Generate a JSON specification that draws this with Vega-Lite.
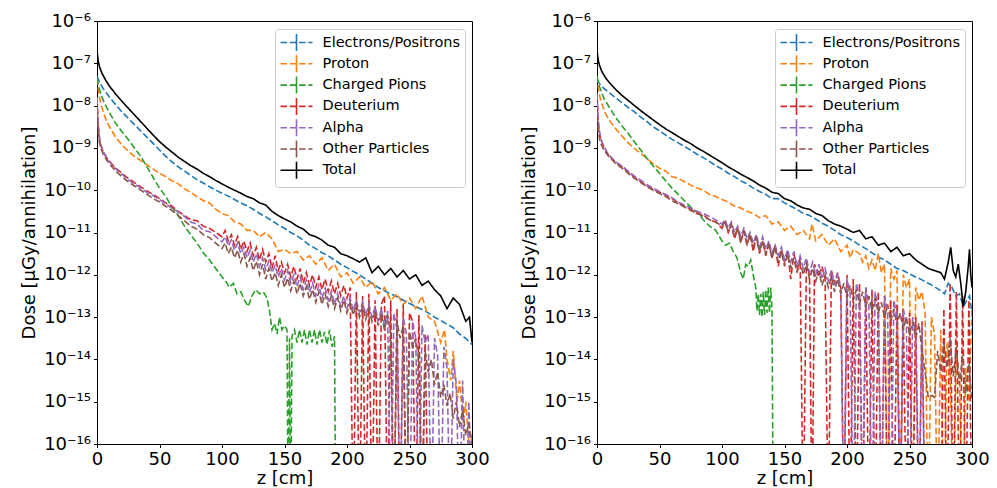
{
"$schema":"https://vega.github.io/schema/vega-lite/v6.json",
"padding":{"left":20,"top":11,"right":5,"bottom":5},
"bounds":"flush",
"spacing":125,
"config":{
 "font":"DejaVu Sans",
 "view":{"stroke":"black","strokeWidth":1},
 "axis":{"domainColor":"black","tickColor":"black","labelColor":"black","titleColor":"black","labelFontSize":18,"titleFontSize":18,"titleFontWeight":"normal","tickSize":3.5,"grid":false,"labelPadding":3,"labelFlush":false,"labelOverlap":false,"labelBound":false,"labelFont":"DejaVu Sans","titleFont":"DejaVu Sans"},
 "legend":{"orient":"top-right","offset":7.5,"title":null,"labelFontSize":14.5,"labelColor":"black","fillColor":"white","strokeColor":"#cccccc","cornerRadius":3,"padding":4.5,"symbolType":"M-1,0H3M1,-1.06V-0.53M1,-0.53V0M1,0V0.53M1,0.53V1.06","symbolSize":256,"symbolStrokeWidth":1.6,"rowPadding":-2.7,"labelOffset":25,"labelBaseline":"middle"}
},
"datasets":{
"names":[{"s":1,"particle":"Electrons/Positrons"},{"s":2,"particle":"Proton"},{"s":3,"particle":"Charged Pions"},{"s":4,"particle":"Deuterium"},{"s":5,"particle":"Alpha"},{"s":6,"particle":"Other Particles"},{"s":7,"particle":"Total"}],
"dose":[
{"p":0,"s":1,"z":0,"y":-7.3},{"p":0,"s":1,"z":2,"y":-7.45},{"p":0,"s":1,"z":5,"y":-7.6},{"p":0,"s":1,"z":10,"y":-7.8},{"p":0,"s":1,"z":15,"y":-7.98},{"p":0,"s":1,"z":20,"y":-8.15},{"p":0,"s":1,"z":25,"y":-8.3},{"p":0,"s":1,"z":30,"y":-8.45},{"p":0,"s":1,"z":35,"y":-8.6},{"p":0,"s":1,"z":40,"y":-8.75},{"p":0,"s":1,"z":45,"y":-8.9},{"p":0,"s":1,"z":50,"y":-9.05},{"p":0,"s":1,"z":55,"y":-9.2},{"p":0,"s":1,"z":60,"y":-9.33},{"p":0,"s":1,"z":65,"y":-9.45},{"p":0,"s":1,"z":70,"y":-9.55},{"p":0,"s":1,"z":75,"y":-9.65},{"p":0,"s":1,"z":80,"y":-9.75},{"p":0,"s":1,"z":85,"y":-9.83},{"p":0,"s":1,"z":90,"y":-9.92},{"p":0,"s":1,"z":95,"y":-10.0},{"p":0,"s":1,"z":100,"y":-10.07},{"p":0,"s":1,"z":105,"y":-10.14},{"p":0,"s":1,"z":110,"y":-10.22},{"p":0,"s":1,"z":115,"y":-10.3},{"p":0,"s":1,"z":120,"y":-10.37},{"p":0,"s":1,"z":125,"y":-10.45},{"p":0,"s":1,"z":130,"y":-10.55},{"p":0,"s":1,"z":135,"y":-10.63},{"p":0,"s":1,"z":140,"y":-10.72},{"p":0,"s":1,"z":145,"y":-10.82},{"p":0,"s":1,"z":150,"y":-10.9},{"p":0,"s":1,"z":155,"y":-11.0},{"p":0,"s":1,"z":160,"y":-11.08},{"p":0,"s":1,"z":165,"y":-11.18},{"p":0,"s":1,"z":170,"y":-11.3},{"p":0,"s":1,"z":175,"y":-11.38},{"p":0,"s":1,"z":180,"y":-11.48},{"p":0,"s":1,"z":185,"y":-11.55},{"p":0,"s":1,"z":190,"y":-11.65},{"p":0,"s":1,"z":195,"y":-11.75},{"p":0,"s":1,"z":200,"y":-11.83},{"p":0,"s":1,"z":205,"y":-11.92},{"p":0,"s":1,"z":210,"y":-12.0},{"p":0,"s":1,"z":215,"y":-12.1},{"p":0,"s":1,"z":220,"y":-12.2},{"p":0,"s":1,"z":225,"y":-12.3},{"p":0,"s":1,"z":230,"y":-12.38},{"p":0,"s":1,"z":235,"y":-12.45},{"p":0,"s":1,"z":240,"y":-12.52},{"p":0,"s":1,"z":245,"y":-12.6},{"p":0,"s":1,"z":250,"y":-12.68},{"p":0,"s":1,"z":255,"y":-12.75},{"p":0,"s":1,"z":260,"y":-12.82},{"p":0,"s":1,"z":265,"y":-12.9},{"p":0,"s":1,"z":270,"y":-13.0},{"p":0,"s":1,"z":275,"y":-13.08},{"p":0,"s":1,"z":280,"y":-13.17},{"p":0,"s":1,"z":285,"y":-13.25},{"p":0,"s":1,"z":290,"y":-13.4},{"p":0,"s":1,"z":295,"y":-13.5},{"p":0,"s":1,"z":300,"y":-13.65},
{"p":0,"s":2,"z":0,"y":-7.35},{"p":0,"s":2,"z":1,"y":-7.6},{"p":0,"s":2,"z":2,"y":-7.8},{"p":0,"s":2,"z":3,"y":-7.95},{"p":0,"s":2,"z":5,"y":-8.15},{"p":0,"s":2,"z":7,"y":-8.32},{"p":0,"s":2,"z":10,"y":-8.5},{"p":0,"s":2,"z":15,"y":-8.75},{"p":0,"s":2,"z":20,"y":-8.93},{"p":0,"s":2,"z":25,"y":-9.08},{"p":0,"s":2,"z":30,"y":-9.2},{"p":0,"s":2,"z":35,"y":-9.3},{"p":0,"s":2,"z":40,"y":-9.4},{"p":0,"s":2,"z":45,"y":-9.5},{"p":0,"s":2,"z":50,"y":-9.6},{"p":0,"s":2,"z":55,"y":-9.68},{"p":0,"s":2,"z":60,"y":-9.78},{"p":0,"s":2,"z":65,"y":-9.85},{"p":0,"s":2,"z":70,"y":-9.97},{"p":0,"s":2,"z":75,"y":-10.05},{"p":0,"s":2,"z":80,"y":-10.15},{"p":0,"s":2,"z":85,"y":-10.25},{"p":0,"s":2,"z":90,"y":-10.3},{"p":0,"s":2,"z":95,"y":-10.45},{"p":0,"s":2,"z":100,"y":-10.55},{"p":0,"s":2,"z":105,"y":-10.6},{"p":0,"s":2,"z":110,"y":-10.75},{"p":0,"s":2,"z":115,"y":-10.8},{"p":0,"s":2,"z":120,"y":-10.95},{"p":0,"s":2,"z":125,"y":-10.95},{"p":0,"s":2,"z":130,"y":-11.1},{"p":0,"s":2,"z":135,"y":-11.0},{"p":0,"s":2,"z":140,"y":-11.15},{"p":0,"s":2,"z":145,"y":-11.45},{"p":0,"s":2,"z":150,"y":-11.4},{"p":0,"s":2,"z":155,"y":-11.5},{"p":0,"s":2,"z":160,"y":-11.45},{"p":0,"s":2,"z":165,"y":-11.65},{"p":0,"s":2,"z":170,"y":-11.55},{"p":0,"s":2,"z":175,"y":-11.75},{"p":0,"s":2,"z":180,"y":-11.6},{"p":0,"s":2,"z":185,"y":-11.9},{"p":0,"s":2,"z":190,"y":-11.75},{"p":0,"s":2,"z":195,"y":-12.05},{"p":0,"s":2,"z":200,"y":-11.95},{"p":0,"s":2,"z":205,"y":-12.2},{"p":0,"s":2,"z":210,"y":-12.05},{"p":0,"s":2,"z":215,"y":-12.3},{"p":0,"s":2,"z":220,"y":-12.15},{"p":0,"s":2,"z":225,"y":-12.45},{"p":0,"s":2,"z":230,"y":-12.3},{"p":0,"s":2,"z":235,"y":-12.6},{"p":0,"s":2,"z":240,"y":-12.45},{"p":0,"s":2,"z":245,"y":-12.7},{"p":0,"s":2,"z":250,"y":-12.55},{"p":0,"s":2,"z":255,"y":-12.8},{"p":0,"s":2,"z":260,"y":-12.5},{"p":0,"s":2,"z":265,"y":-13.0},{"p":0,"s":2,"z":270,"y":-13.1},{"p":0,"s":2,"z":275,"y":-13.6},{"p":0,"s":2,"z":278,"y":-13.3},{"p":0,"s":2,"z":280,"y":-14.0},{"p":0,"s":2,"z":283,"y":-14.5},{"p":0,"s":2,"z":285,"y":-13.8},{"p":0,"s":2,"z":288,"y":-15.0},{"p":0,"s":2,"z":290,"y":-14.5},{"p":0,"s":2,"z":293,"y":-15.5},{"p":0,"s":2,"z":295,"y":-15.0},{"p":0,"s":2,"z":298,"y":-16.2},{"p":0,"s":2,"z":300,"y":-15.8},
{"p":0,"s":3,"z":0,"y":-7.35},{"p":0,"s":3,"z":1,"y":-7.5},{"p":0,"s":3,"z":2,"y":-7.62},{"p":0,"s":3,"z":4,"y":-7.8},{"p":0,"s":3,"z":6,"y":-7.95},{"p":0,"s":3,"z":10,"y":-8.17},{"p":0,"s":3,"z":15,"y":-8.42},{"p":0,"s":3,"z":20,"y":-8.62},{"p":0,"s":3,"z":25,"y":-8.8},{"p":0,"s":3,"z":30,"y":-9.0},{"p":0,"s":3,"z":35,"y":-9.2},{"p":0,"s":3,"z":40,"y":-9.45},{"p":0,"s":3,"z":45,"y":-9.7},{"p":0,"s":3,"z":50,"y":-9.95},{"p":0,"s":3,"z":55,"y":-10.15},{"p":0,"s":3,"z":60,"y":-10.4},{"p":0,"s":3,"z":65,"y":-10.6},{"p":0,"s":3,"z":70,"y":-10.85},{"p":0,"s":3,"z":75,"y":-11.05},{"p":0,"s":3,"z":80,"y":-11.25},{"p":0,"s":3,"z":85,"y":-11.48},{"p":0,"s":3,"z":90,"y":-11.65},{"p":0,"s":3,"z":95,"y":-11.85},{"p":0,"s":3,"z":100,"y":-12.05},{"p":0,"s":3,"z":103,"y":-12.15},{"p":0,"s":3,"z":106,"y":-12.3},{"p":0,"s":3,"z":109,"y":-12.2},{"p":0,"s":3,"z":112,"y":-12.45},{"p":0,"s":3,"z":115,"y":-12.4},{"p":0,"s":3,"z":118,"y":-12.6},{"p":0,"s":3,"z":121,"y":-12.75},{"p":0,"s":3,"z":124,"y":-12.5},{"p":0,"s":3,"z":127,"y":-12.35},{"p":0,"s":3,"z":130,"y":-12.45},{"p":0,"s":3,"z":133,"y":-12.4},{"p":0,"s":3,"z":136,"y":-12.55},{"p":0,"s":3,"z":138,"y":-12.85},{"p":0,"s":3,"z":140,"y":-13.3},{"p":0,"s":3,"z":142,"y":-13.15},{"p":0,"s":3,"z":144,"y":-13.4},{"p":0,"s":3,"z":146,"y":-13.0},{"p":0,"s":3,"z":148,"y":-13.3},{"p":0,"s":3,"z":150,"y":-13.2},{"p":0,"s":3,"z":152,"y":-13.3},{"p":0,"s":3,"z":153,"y":-18},{"p":0,"s":3,"z":154,"y":-13.5},{"p":0,"s":3,"z":155,"y":-18},{"p":0,"s":3,"z":156,"y":-13.45},{"p":0,"s":3,"z":158,"y":-13.3},{"p":0,"s":3,"z":160,"y":-13.6},{"p":0,"s":3,"z":162,"y":-13.3},{"p":0,"s":3,"z":164,"y":-13.6},{"p":0,"s":3,"z":166,"y":-13.3},{"p":0,"s":3,"z":168,"y":-13.65},{"p":0,"s":3,"z":170,"y":-13.3},{"p":0,"s":3,"z":172,"y":-13.6},{"p":0,"s":3,"z":174,"y":-13.3},{"p":0,"s":3,"z":176,"y":-13.65},{"p":0,"s":3,"z":178,"y":-13.3},{"p":0,"s":3,"z":180,"y":-13.6},{"p":0,"s":3,"z":182,"y":-13.35},{"p":0,"s":3,"z":184,"y":-13.65},{"p":0,"s":3,"z":186,"y":-13.3},{"p":0,"s":3,"z":188,"y":-13.7},{"p":0,"s":3,"z":190,"y":-13.45},{"p":0,"s":3,"z":191,"y":-18},
{"p":0,"s":4,"z":0,"y":-7.85},{"p":0,"s":4,"z":1,"y":-8.5},{"p":0,"s":4,"z":2,"y":-8.8},{"p":0,"s":4,"z":3,"y":-8.95},{"p":0,"s":4,"z":5,"y":-9.1},{"p":0,"s":4,"z":8,"y":-9.25},{"p":0,"s":4,"z":10,"y":-9.32},{"p":0,"s":4,"z":15,"y":-9.48},{"p":0,"s":4,"z":20,"y":-9.6},{"p":0,"s":4,"z":25,"y":-9.72},{"p":0,"s":4,"z":30,"y":-9.82},{"p":0,"s":4,"z":35,"y":-9.92},{"p":0,"s":4,"z":40,"y":-10.02},{"p":0,"s":4,"z":45,"y":-10.1},{"p":0,"s":4,"z":50,"y":-10.2},{"p":0,"s":4,"z":55,"y":-10.3},{"p":0,"s":4,"z":60,"y":-10.38},{"p":0,"s":4,"z":65,"y":-10.5},{"p":0,"s":4,"z":70,"y":-10.6},{"p":0,"s":4,"z":75,"y":-10.7},{"p":0,"s":4,"z":80,"y":-10.72},{"p":0,"s":4,"z":85,"y":-10.85},{"p":0,"s":4,"z":90,"y":-10.9},{"p":0,"s":4,"z":95,"y":-11.0},{"p":0,"s":4,"z":100,"y":-11.1},{"p":0,"s":4,"z":102.5,"y":-10.95},{"p":0,"s":4,"z":105,"y":-11.2},{"p":0,"s":4,"z":107.5,"y":-11.05},{"p":0,"s":4,"z":110,"y":-11.3},{"p":0,"s":4,"z":112.5,"y":-11.1},{"p":0,"s":4,"z":115,"y":-11.4},{"p":0,"s":4,"z":117.5,"y":-11.2},{"p":0,"s":4,"z":120,"y":-11.45},{"p":0,"s":4,"z":122.5,"y":-11.25},{"p":0,"s":4,"z":125,"y":-11.55},{"p":0,"s":4,"z":127.5,"y":-11.35},{"p":0,"s":4,"z":130,"y":-11.65},{"p":0,"s":4,"z":132.5,"y":-11.4},{"p":0,"s":4,"z":135,"y":-11.7},{"p":0,"s":4,"z":137.5,"y":-11.5},{"p":0,"s":4,"z":140,"y":-11.85},{"p":0,"s":4,"z":142.5,"y":-11.55},{"p":0,"s":4,"z":145,"y":-11.9},{"p":0,"s":4,"z":147.5,"y":-11.7},{"p":0,"s":4,"z":150,"y":-11.95},{"p":0,"s":4,"z":152.5,"y":-11.75},{"p":0,"s":4,"z":155,"y":-12.05},{"p":0,"s":4,"z":157.5,"y":-11.8},{"p":0,"s":4,"z":160,"y":-12.1},{"p":0,"s":4,"z":162.5,"y":-11.85},{"p":0,"s":4,"z":165,"y":-12.2},{"p":0,"s":4,"z":167.5,"y":-11.95},{"p":0,"s":4,"z":170,"y":-12.25},{"p":0,"s":4,"z":172.5,"y":-12.0},{"p":0,"s":4,"z":175,"y":-12.3},{"p":0,"s":4,"z":177.5,"y":-12.05},{"p":0,"s":4,"z":180,"y":-12.35},{"p":0,"s":4,"z":182.5,"y":-12.1},{"p":0,"s":4,"z":185,"y":-12.4},{"p":0,"s":4,"z":187.5,"y":-12.15},{"p":0,"s":4,"z":190,"y":-12.45},{"p":0,"s":4,"z":192.5,"y":-12.2},{"p":0,"s":4,"z":195,"y":-12.5},{"p":0,"s":4,"z":197.5,"y":-12.25},{"p":0,"s":4,"z":200,"y":-12.55},{"p":0,"s":4,"z":202.5,"y":-12.3},{"p":0,"s":4,"z":205,"y":-18},{"p":0,"s":4,"z":207.5,"y":-12.4},{"p":0,"s":4,"z":210,"y":-18},{"p":0,"s":4,"z":212.5,"y":-12.5},{"p":0,"s":4,"z":215,"y":-18},{"p":0,"s":4,"z":217.5,"y":-12.45},{"p":0,"s":4,"z":220,"y":-18},{"p":0,"s":4,"z":222.5,"y":-12.6},{"p":0,"s":4,"z":225,"y":-18},{"p":0,"s":4,"z":227.5,"y":-12.7},{"p":0,"s":4,"z":230,"y":-12.5},{"p":0,"s":4,"z":232.5,"y":-18},{"p":0,"s":4,"z":235,"y":-12.6},{"p":0,"s":4,"z":237.5,"y":-18},{"p":0,"s":4,"z":240,"y":-12.8},{"p":0,"s":4,"z":242.5,"y":-18},{"p":0,"s":4,"z":245,"y":-12.7},{"p":0,"s":4,"z":247.5,"y":-18},{"p":0,"s":4,"z":250,"y":-12.9},{"p":0,"s":4,"z":252.5,"y":-13.1},{"p":0,"s":4,"z":255,"y":-18},{"p":0,"s":4,"z":257.5,"y":-12.95},{"p":0,"s":4,"z":260,"y":-18},{"p":0,"s":4,"z":262.5,"y":-13.4},{"p":0,"s":4,"z":265,"y":-18},{"p":0,"s":4,"z":300,"y":-18},
{"p":0,"s":5,"z":0,"y":-7.8},{"p":0,"s":5,"z":1,"y":-8.45},{"p":0,"s":5,"z":2,"y":-8.75},{"p":0,"s":5,"z":3,"y":-8.92},{"p":0,"s":5,"z":5,"y":-9.08},{"p":0,"s":5,"z":8,"y":-9.24},{"p":0,"s":5,"z":10,"y":-9.32},{"p":0,"s":5,"z":15,"y":-9.5},{"p":0,"s":5,"z":20,"y":-9.62},{"p":0,"s":5,"z":25,"y":-9.75},{"p":0,"s":5,"z":30,"y":-9.85},{"p":0,"s":5,"z":35,"y":-9.95},{"p":0,"s":5,"z":40,"y":-10.05},{"p":0,"s":5,"z":45,"y":-10.13},{"p":0,"s":5,"z":50,"y":-10.22},{"p":0,"s":5,"z":55,"y":-10.32},{"p":0,"s":5,"z":60,"y":-10.42},{"p":0,"s":5,"z":65,"y":-10.52},{"p":0,"s":5,"z":70,"y":-10.62},{"p":0,"s":5,"z":75,"y":-10.75},{"p":0,"s":5,"z":80,"y":-10.8},{"p":0,"s":5,"z":85,"y":-10.95},{"p":0,"s":5,"z":90,"y":-10.98},{"p":0,"s":5,"z":95,"y":-11.1},{"p":0,"s":5,"z":100,"y":-11.22},{"p":0,"s":5,"z":102.5,"y":-11.1},{"p":0,"s":5,"z":105,"y":-11.32},{"p":0,"s":5,"z":107.5,"y":-11.18},{"p":0,"s":5,"z":110,"y":-11.42},{"p":0,"s":5,"z":112.5,"y":-11.25},{"p":0,"s":5,"z":115,"y":-11.5},{"p":0,"s":5,"z":117.5,"y":-11.35},{"p":0,"s":5,"z":120,"y":-11.6},{"p":0,"s":5,"z":122.5,"y":-11.42},{"p":0,"s":5,"z":125,"y":-11.7},{"p":0,"s":5,"z":127.5,"y":-11.5},{"p":0,"s":5,"z":130,"y":-11.8},{"p":0,"s":5,"z":132.5,"y":-11.6},{"p":0,"s":5,"z":135,"y":-11.88},{"p":0,"s":5,"z":137.5,"y":-11.68},{"p":0,"s":5,"z":140,"y":-11.95},{"p":0,"s":5,"z":142.5,"y":-11.78},{"p":0,"s":5,"z":145,"y":-12.05},{"p":0,"s":5,"z":147.5,"y":-11.85},{"p":0,"s":5,"z":150,"y":-12.12},{"p":0,"s":5,"z":152.5,"y":-11.9},{"p":0,"s":5,"z":155,"y":-12.2},{"p":0,"s":5,"z":157.5,"y":-12.0},{"p":0,"s":5,"z":160,"y":-12.28},{"p":0,"s":5,"z":162.5,"y":-12.05},{"p":0,"s":5,"z":165,"y":-12.35},{"p":0,"s":5,"z":167.5,"y":-12.12},{"p":0,"s":5,"z":170,"y":-12.42},{"p":0,"s":5,"z":172.5,"y":-12.2},{"p":0,"s":5,"z":175,"y":-12.5},{"p":0,"s":5,"z":177.5,"y":-12.25},{"p":0,"s":5,"z":180,"y":-12.55},{"p":0,"s":5,"z":182.5,"y":-12.32},{"p":0,"s":5,"z":185,"y":-12.6},{"p":0,"s":5,"z":187.5,"y":-12.38},{"p":0,"s":5,"z":190,"y":-12.7},{"p":0,"s":5,"z":192.5,"y":-12.45},{"p":0,"s":5,"z":195,"y":-12.75},{"p":0,"s":5,"z":197.5,"y":-12.5},{"p":0,"s":5,"z":200,"y":-12.8},{"p":0,"s":5,"z":202.5,"y":-12.55},{"p":0,"s":5,"z":205,"y":-12.85},{"p":0,"s":5,"z":207.5,"y":-12.6},{"p":0,"s":5,"z":210,"y":-12.9},{"p":0,"s":5,"z":212.5,"y":-12.65},{"p":0,"s":5,"z":215,"y":-12.95},{"p":0,"s":5,"z":217.5,"y":-12.7},{"p":0,"s":5,"z":220,"y":-13.0},{"p":0,"s":5,"z":222.5,"y":-12.75},{"p":0,"s":5,"z":225,"y":-13.1},{"p":0,"s":5,"z":227.5,"y":-12.8},{"p":0,"s":5,"z":230,"y":-13.2},{"p":0,"s":5,"z":232.5,"y":-12.85},{"p":0,"s":5,"z":235,"y":-18},{"p":0,"s":5,"z":237.5,"y":-12.9},{"p":0,"s":5,"z":240,"y":-13.3},{"p":0,"s":5,"z":242.5,"y":-18},{"p":0,"s":5,"z":245,"y":-13.0},{"p":0,"s":5,"z":247.5,"y":-13.4},{"p":0,"s":5,"z":250,"y":-18},{"p":0,"s":5,"z":252.5,"y":-13.1},{"p":0,"s":5,"z":255,"y":-13.5},{"p":0,"s":5,"z":257.5,"y":-18},{"p":0,"s":5,"z":260,"y":-13.2},{"p":0,"s":5,"z":262.5,"y":-13.6},{"p":0,"s":5,"z":265,"y":-13.4},{"p":0,"s":5,"z":267.5,"y":-18},{"p":0,"s":5,"z":270,"y":-13.5},{"p":0,"s":5,"z":272.5,"y":-13.9},{"p":0,"s":5,"z":275,"y":-18},{"p":0,"s":5,"z":277.5,"y":-13.7},{"p":0,"s":5,"z":280,"y":-14.2},{"p":0,"s":5,"z":282.5,"y":-18},{"p":0,"s":5,"z":285,"y":-14.0},{"p":0,"s":5,"z":287.5,"y":-14.6},{"p":0,"s":5,"z":290,"y":-18},{"p":0,"s":5,"z":292.5,"y":-14.5},{"p":0,"s":5,"z":295,"y":-18},{"p":0,"s":5,"z":297.5,"y":-15.0},{"p":0,"s":5,"z":300,"y":-18},
{"p":0,"s":6,"z":0,"y":-8.15},{"p":0,"s":6,"z":1,"y":-8.65},{"p":0,"s":6,"z":2,"y":-8.88},{"p":0,"s":6,"z":3,"y":-9.0},{"p":0,"s":6,"z":5,"y":-9.15},{"p":0,"s":6,"z":8,"y":-9.3},{"p":0,"s":6,"z":10,"y":-9.38},{"p":0,"s":6,"z":15,"y":-9.55},{"p":0,"s":6,"z":20,"y":-9.68},{"p":0,"s":6,"z":25,"y":-9.8},{"p":0,"s":6,"z":30,"y":-9.9},{"p":0,"s":6,"z":35,"y":-10.0},{"p":0,"s":6,"z":40,"y":-10.1},{"p":0,"s":6,"z":45,"y":-10.2},{"p":0,"s":6,"z":50,"y":-10.28},{"p":0,"s":6,"z":55,"y":-10.38},{"p":0,"s":6,"z":60,"y":-10.48},{"p":0,"s":6,"z":65,"y":-10.6},{"p":0,"s":6,"z":70,"y":-10.72},{"p":0,"s":6,"z":75,"y":-10.85},{"p":0,"s":6,"z":80,"y":-10.92},{"p":0,"s":6,"z":85,"y":-11.05},{"p":0,"s":6,"z":90,"y":-11.12},{"p":0,"s":6,"z":95,"y":-11.25},{"p":0,"s":6,"z":100,"y":-11.38},{"p":0,"s":6,"z":102.5,"y":-11.25},{"p":0,"s":6,"z":105,"y":-11.5},{"p":0,"s":6,"z":107.5,"y":-11.35},{"p":0,"s":6,"z":110,"y":-11.6},{"p":0,"s":6,"z":112.5,"y":-11.42},{"p":0,"s":6,"z":115,"y":-11.7},{"p":0,"s":6,"z":117.5,"y":-11.5},{"p":0,"s":6,"z":120,"y":-11.8},{"p":0,"s":6,"z":122.5,"y":-11.6},{"p":0,"s":6,"z":125,"y":-11.9},{"p":0,"s":6,"z":127.5,"y":-11.68},{"p":0,"s":6,"z":130,"y":-12.0},{"p":0,"s":6,"z":132.5,"y":-11.75},{"p":0,"s":6,"z":135,"y":-12.1},{"p":0,"s":6,"z":137.5,"y":-11.85},{"p":0,"s":6,"z":140,"y":-12.15},{"p":0,"s":6,"z":142.5,"y":-11.95},{"p":0,"s":6,"z":145,"y":-12.25},{"p":0,"s":6,"z":147.5,"y":-12.0},{"p":0,"s":6,"z":150,"y":-12.3},{"p":0,"s":6,"z":152.5,"y":-12.08},{"p":0,"s":6,"z":155,"y":-12.38},{"p":0,"s":6,"z":157.5,"y":-12.15},{"p":0,"s":6,"z":160,"y":-12.45},{"p":0,"s":6,"z":162.5,"y":-12.2},{"p":0,"s":6,"z":165,"y":-12.5},{"p":0,"s":6,"z":167.5,"y":-12.28},{"p":0,"s":6,"z":170,"y":-12.58},{"p":0,"s":6,"z":172.5,"y":-12.35},{"p":0,"s":6,"z":175,"y":-12.65},{"p":0,"s":6,"z":177.5,"y":-12.4},{"p":0,"s":6,"z":180,"y":-12.7},{"p":0,"s":6,"z":182.5,"y":-12.45},{"p":0,"s":6,"z":185,"y":-12.75},{"p":0,"s":6,"z":187.5,"y":-12.5},{"p":0,"s":6,"z":190,"y":-12.8},{"p":0,"s":6,"z":192.5,"y":-12.55},{"p":0,"s":6,"z":195,"y":-12.85},{"p":0,"s":6,"z":197.5,"y":-12.6},{"p":0,"s":6,"z":200,"y":-12.9},{"p":0,"s":6,"z":202.5,"y":-12.65},{"p":0,"s":6,"z":205,"y":-12.95},{"p":0,"s":6,"z":207.5,"y":-12.7},{"p":0,"s":6,"z":210,"y":-13.0},{"p":0,"s":6,"z":212.5,"y":-12.75},{"p":0,"s":6,"z":215,"y":-13.05},{"p":0,"s":6,"z":217.5,"y":-12.8},{"p":0,"s":6,"z":220,"y":-13.1},{"p":0,"s":6,"z":222.5,"y":-12.85},{"p":0,"s":6,"z":225,"y":-13.2},{"p":0,"s":6,"z":227.5,"y":-12.9},{"p":0,"s":6,"z":230,"y":-13.3},{"p":0,"s":6,"z":232.5,"y":-12.95},{"p":0,"s":6,"z":235,"y":-13.4},{"p":0,"s":6,"z":237.5,"y":-18},{"p":0,"s":6,"z":240,"y":-13.1},{"p":0,"s":6,"z":242.5,"y":-13.5},{"p":0,"s":6,"z":245,"y":-13.2},{"p":0,"s":6,"z":247.5,"y":-18},{"p":0,"s":6,"z":250,"y":-13.35},{"p":0,"s":6,"z":252.5,"y":-13.7},{"p":0,"s":6,"z":255,"y":-13.5},{"p":0,"s":6,"z":257.5,"y":-14.0},{"p":0,"s":6,"z":260,"y":-18},{"p":0,"s":6,"z":262.5,"y":-13.8},{"p":0,"s":6,"z":265,"y":-14.3},{"p":0,"s":6,"z":267.5,"y":-14.0},{"p":0,"s":6,"z":270,"y":-14.6},{"p":0,"s":6,"z":272.5,"y":-14.3},{"p":0,"s":6,"z":275,"y":-14.9},{"p":0,"s":6,"z":277.5,"y":-14.6},{"p":0,"s":6,"z":280,"y":-15.1},{"p":0,"s":6,"z":282.5,"y":-14.8},{"p":0,"s":6,"z":285,"y":-15.4},{"p":0,"s":6,"z":287.5,"y":-15.0},{"p":0,"s":6,"z":290,"y":-15.6},{"p":0,"s":6,"z":292.5,"y":-15.2},{"p":0,"s":6,"z":295,"y":-15.8},{"p":0,"s":6,"z":297.5,"y":-15.5},{"p":0,"s":6,"z":300,"y":-16.0},
{"p":0,"s":7,"z":0,"y":-6.72},{"p":0,"s":7,"z":1,"y":-6.95},{"p":0,"s":7,"z":2,"y":-7.08},{"p":0,"s":7,"z":4,"y":-7.24},{"p":0,"s":7,"z":7,"y":-7.4},{"p":0,"s":7,"z":10,"y":-7.54},{"p":0,"s":7,"z":15,"y":-7.73},{"p":0,"s":7,"z":20,"y":-7.9},{"p":0,"s":7,"z":25,"y":-8.06},{"p":0,"s":7,"z":30,"y":-8.22},{"p":0,"s":7,"z":35,"y":-8.38},{"p":0,"s":7,"z":40,"y":-8.54},{"p":0,"s":7,"z":45,"y":-8.7},{"p":0,"s":7,"z":50,"y":-8.85},{"p":0,"s":7,"z":55,"y":-8.98},{"p":0,"s":7,"z":60,"y":-9.1},{"p":0,"s":7,"z":65,"y":-9.22},{"p":0,"s":7,"z":70,"y":-9.32},{"p":0,"s":7,"z":75,"y":-9.42},{"p":0,"s":7,"z":80,"y":-9.5},{"p":0,"s":7,"z":85,"y":-9.6},{"p":0,"s":7,"z":90,"y":-9.68},{"p":0,"s":7,"z":95,"y":-9.77},{"p":0,"s":7,"z":100,"y":-9.85},{"p":0,"s":7,"z":105,"y":-9.93},{"p":0,"s":7,"z":110,"y":-10.0},{"p":0,"s":7,"z":115,"y":-10.07},{"p":0,"s":7,"z":120,"y":-10.15},{"p":0,"s":7,"z":125,"y":-10.2},{"p":0,"s":7,"z":130,"y":-10.3},{"p":0,"s":7,"z":135,"y":-10.35},{"p":0,"s":7,"z":140,"y":-10.5},{"p":0,"s":7,"z":145,"y":-10.6},{"p":0,"s":7,"z":150,"y":-10.68},{"p":0,"s":7,"z":155,"y":-10.75},{"p":0,"s":7,"z":160,"y":-10.85},{"p":0,"s":7,"z":165,"y":-10.92},{"p":0,"s":7,"z":170,"y":-11.05},{"p":0,"s":7,"z":175,"y":-11.1},{"p":0,"s":7,"z":180,"y":-11.18},{"p":0,"s":7,"z":185,"y":-11.3},{"p":0,"s":7,"z":190,"y":-11.35},{"p":0,"s":7,"z":195,"y":-11.5},{"p":0,"s":7,"z":200,"y":-11.55},{"p":0,"s":7,"z":205,"y":-11.62},{"p":0,"s":7,"z":210,"y":-11.7},{"p":0,"s":7,"z":215,"y":-11.6},{"p":0,"s":7,"z":220,"y":-11.95},{"p":0,"s":7,"z":225,"y":-11.8},{"p":0,"s":7,"z":230,"y":-12.0},{"p":0,"s":7,"z":235,"y":-11.85},{"p":0,"s":7,"z":240,"y":-12.05},{"p":0,"s":7,"z":245,"y":-11.9},{"p":0,"s":7,"z":250,"y":-12.1},{"p":0,"s":7,"z":255,"y":-12.0},{"p":0,"s":7,"z":260,"y":-12.25},{"p":0,"s":7,"z":265,"y":-12.15},{"p":0,"s":7,"z":270,"y":-12.35},{"p":0,"s":7,"z":275,"y":-12.5},{"p":0,"s":7,"z":280,"y":-12.8},{"p":0,"s":7,"z":285,"y":-12.55},{"p":0,"s":7,"z":290,"y":-12.7},{"p":0,"s":7,"z":295,"y":-13.1},{"p":0,"s":7,"z":298,"y":-13.0},{"p":0,"s":7,"z":300,"y":-13.6},
{"p":1,"s":1,"z":0,"y":-7.38},{"p":1,"s":1,"z":2,"y":-7.48},{"p":1,"s":1,"z":5,"y":-7.58},{"p":1,"s":1,"z":10,"y":-7.7},{"p":1,"s":1,"z":15,"y":-7.82},{"p":1,"s":1,"z":20,"y":-7.93},{"p":1,"s":1,"z":25,"y":-8.05},{"p":1,"s":1,"z":30,"y":-8.15},{"p":1,"s":1,"z":35,"y":-8.27},{"p":1,"s":1,"z":40,"y":-8.38},{"p":1,"s":1,"z":45,"y":-8.5},{"p":1,"s":1,"z":50,"y":-8.6},{"p":1,"s":1,"z":55,"y":-8.7},{"p":1,"s":1,"z":60,"y":-8.8},{"p":1,"s":1,"z":65,"y":-8.88},{"p":1,"s":1,"z":70,"y":-8.97},{"p":1,"s":1,"z":75,"y":-9.05},{"p":1,"s":1,"z":80,"y":-9.15},{"p":1,"s":1,"z":85,"y":-9.23},{"p":1,"s":1,"z":90,"y":-9.32},{"p":1,"s":1,"z":95,"y":-9.42},{"p":1,"s":1,"z":100,"y":-9.5},{"p":1,"s":1,"z":105,"y":-9.6},{"p":1,"s":1,"z":110,"y":-9.68},{"p":1,"s":1,"z":115,"y":-9.78},{"p":1,"s":1,"z":120,"y":-9.85},{"p":1,"s":1,"z":125,"y":-9.95},{"p":1,"s":1,"z":130,"y":-10.03},{"p":1,"s":1,"z":135,"y":-10.1},{"p":1,"s":1,"z":140,"y":-10.2},{"p":1,"s":1,"z":145,"y":-10.2},{"p":1,"s":1,"z":150,"y":-10.3},{"p":1,"s":1,"z":155,"y":-10.38},{"p":1,"s":1,"z":160,"y":-10.45},{"p":1,"s":1,"z":165,"y":-10.55},{"p":1,"s":1,"z":170,"y":-10.6},{"p":1,"s":1,"z":175,"y":-10.68},{"p":1,"s":1,"z":180,"y":-10.78},{"p":1,"s":1,"z":185,"y":-10.85},{"p":1,"s":1,"z":190,"y":-10.95},{"p":1,"s":1,"z":195,"y":-11.05},{"p":1,"s":1,"z":200,"y":-11.12},{"p":1,"s":1,"z":205,"y":-11.2},{"p":1,"s":1,"z":210,"y":-11.3},{"p":1,"s":1,"z":215,"y":-11.38},{"p":1,"s":1,"z":220,"y":-11.48},{"p":1,"s":1,"z":225,"y":-11.58},{"p":1,"s":1,"z":230,"y":-11.65},{"p":1,"s":1,"z":235,"y":-11.75},{"p":1,"s":1,"z":240,"y":-11.85},{"p":1,"s":1,"z":245,"y":-11.9},{"p":1,"s":1,"z":250,"y":-11.98},{"p":1,"s":1,"z":255,"y":-12.05},{"p":1,"s":1,"z":260,"y":-12.12},{"p":1,"s":1,"z":265,"y":-12.2},{"p":1,"s":1,"z":270,"y":-12.28},{"p":1,"s":1,"z":275,"y":-12.38},{"p":1,"s":1,"z":278,"y":-12.45},{"p":1,"s":1,"z":281,"y":-12.2},{"p":1,"s":1,"z":284,"y":-12.3},{"p":1,"s":1,"z":287,"y":-12.5},{"p":1,"s":1,"z":290,"y":-12.45},{"p":1,"s":1,"z":293,"y":-12.75},{"p":1,"s":1,"z":296,"y":-12.6},{"p":1,"s":1,"z":298,"y":-12.5},{"p":1,"s":1,"z":300,"y":-12.9},
{"p":1,"s":2,"z":0,"y":-7.3},{"p":1,"s":2,"z":1,"y":-7.55},{"p":1,"s":2,"z":2,"y":-7.75},{"p":1,"s":2,"z":3,"y":-7.88},{"p":1,"s":2,"z":5,"y":-8.05},{"p":1,"s":2,"z":7,"y":-8.2},{"p":1,"s":2,"z":10,"y":-8.35},{"p":1,"s":2,"z":15,"y":-8.55},{"p":1,"s":2,"z":20,"y":-8.72},{"p":1,"s":2,"z":25,"y":-8.88},{"p":1,"s":2,"z":30,"y":-9.02},{"p":1,"s":2,"z":35,"y":-9.13},{"p":1,"s":2,"z":40,"y":-9.25},{"p":1,"s":2,"z":45,"y":-9.38},{"p":1,"s":2,"z":50,"y":-9.48},{"p":1,"s":2,"z":55,"y":-9.55},{"p":1,"s":2,"z":60,"y":-9.68},{"p":1,"s":2,"z":65,"y":-9.72},{"p":1,"s":2,"z":70,"y":-9.8},{"p":1,"s":2,"z":75,"y":-9.88},{"p":1,"s":2,"z":80,"y":-9.95},{"p":1,"s":2,"z":85,"y":-10.0},{"p":1,"s":2,"z":90,"y":-10.1},{"p":1,"s":2,"z":95,"y":-10.15},{"p":1,"s":2,"z":100,"y":-10.22},{"p":1,"s":2,"z":105,"y":-10.28},{"p":1,"s":2,"z":110,"y":-10.38},{"p":1,"s":2,"z":115,"y":-10.42},{"p":1,"s":2,"z":120,"y":-10.5},{"p":1,"s":2,"z":125,"y":-10.55},{"p":1,"s":2,"z":130,"y":-10.65},{"p":1,"s":2,"z":135,"y":-10.6},{"p":1,"s":2,"z":140,"y":-10.8},{"p":1,"s":2,"z":145,"y":-10.75},{"p":1,"s":2,"z":150,"y":-10.95},{"p":1,"s":2,"z":155,"y":-10.85},{"p":1,"s":2,"z":160,"y":-11.05},{"p":1,"s":2,"z":165,"y":-10.95},{"p":1,"s":2,"z":170,"y":-11.15},{"p":1,"s":2,"z":172,"y":-10.8},{"p":1,"s":2,"z":175,"y":-11.2},{"p":1,"s":2,"z":180,"y":-11.05},{"p":1,"s":2,"z":185,"y":-11.3},{"p":1,"s":2,"z":190,"y":-11.15},{"p":1,"s":2,"z":195,"y":-11.45},{"p":1,"s":2,"z":200,"y":-11.3},{"p":1,"s":2,"z":202.5,"y":-11.6},{"p":1,"s":2,"z":205,"y":-11.4},{"p":1,"s":2,"z":210,"y":-11.5},{"p":1,"s":2,"z":212.5,"y":-11.7},{"p":1,"s":2,"z":215,"y":-11.55},{"p":1,"s":2,"z":217.5,"y":-11.85},{"p":1,"s":2,"z":220,"y":-11.65},{"p":1,"s":2,"z":222.5,"y":-11.9},{"p":1,"s":2,"z":225,"y":-11.5},{"p":1,"s":2,"z":227.5,"y":-11.95},{"p":1,"s":2,"z":230,"y":-11.75},{"p":1,"s":2,"z":232.5,"y":-18},{"p":1,"s":2,"z":235,"y":-11.85},{"p":1,"s":2,"z":237.5,"y":-12.1},{"p":1,"s":2,"z":240,"y":-11.9},{"p":1,"s":2,"z":242.5,"y":-18},{"p":1,"s":2,"z":245,"y":-12.0},{"p":1,"s":2,"z":247.5,"y":-12.3},{"p":1,"s":2,"z":250,"y":-12.1},{"p":1,"s":2,"z":252.5,"y":-18},{"p":1,"s":2,"z":255,"y":-12.3},{"p":1,"s":2,"z":257.5,"y":-12.6},{"p":1,"s":2,"z":260,"y":-12.4},{"p":1,"s":2,"z":262.5,"y":-12.9},{"p":1,"s":2,"z":265,"y":-18},{"p":1,"s":2,"z":267.5,"y":-13.0},{"p":1,"s":2,"z":270,"y":-13.4},{"p":1,"s":2,"z":272.5,"y":-18},{"p":1,"s":2,"z":275,"y":-13.3},{"p":1,"s":2,"z":277.5,"y":-18},{"p":1,"s":2,"z":280,"y":-13.6},{"p":1,"s":2,"z":282.5,"y":-14.2},{"p":1,"s":2,"z":285,"y":-18},{"p":1,"s":2,"z":287.5,"y":-13.8},{"p":1,"s":2,"z":290,"y":-14.5},{"p":1,"s":2,"z":292.5,"y":-18},{"p":1,"s":2,"z":295,"y":-14.2},{"p":1,"s":2,"z":297.5,"y":-15.0},{"p":1,"s":2,"z":300,"y":-12.8},
{"p":1,"s":3,"z":0,"y":-7.3},{"p":1,"s":3,"z":1,"y":-7.45},{"p":1,"s":3,"z":2,"y":-7.55},{"p":1,"s":3,"z":4,"y":-7.72},{"p":1,"s":3,"z":6,"y":-7.85},{"p":1,"s":3,"z":10,"y":-8.05},{"p":1,"s":3,"z":15,"y":-8.28},{"p":1,"s":3,"z":20,"y":-8.48},{"p":1,"s":3,"z":25,"y":-8.66},{"p":1,"s":3,"z":30,"y":-8.86},{"p":1,"s":3,"z":35,"y":-9.05},{"p":1,"s":3,"z":40,"y":-9.25},{"p":1,"s":3,"z":45,"y":-9.43},{"p":1,"s":3,"z":50,"y":-9.6},{"p":1,"s":3,"z":55,"y":-9.78},{"p":1,"s":3,"z":60,"y":-9.95},{"p":1,"s":3,"z":65,"y":-10.1},{"p":1,"s":3,"z":70,"y":-10.25},{"p":1,"s":3,"z":75,"y":-10.4},{"p":1,"s":3,"z":80,"y":-10.52},{"p":1,"s":3,"z":85,"y":-10.7},{"p":1,"s":3,"z":90,"y":-10.85},{"p":1,"s":3,"z":95,"y":-10.95},{"p":1,"s":3,"z":100,"y":-11.2},{"p":1,"s":3,"z":103,"y":-11.3},{"p":1,"s":3,"z":106,"y":-11.25},{"p":1,"s":3,"z":109,"y":-11.45},{"p":1,"s":3,"z":112,"y":-11.6},{"p":1,"s":3,"z":115,"y":-11.95},{"p":1,"s":3,"z":117,"y":-12.1},{"p":1,"s":3,"z":119,"y":-11.75},{"p":1,"s":3,"z":121,"y":-11.8},{"p":1,"s":3,"z":123,"y":-11.65},{"p":1,"s":3,"z":125,"y":-12.0},{"p":1,"s":3,"z":127,"y":-12.3},{"p":1,"s":3,"z":128,"y":-12.85},{"p":1,"s":3,"z":129,"y":-12.45},{"p":1,"s":3,"z":130,"y":-12.95},{"p":1,"s":3,"z":131,"y":-12.45},{"p":1,"s":3,"z":132,"y":-13.0},{"p":1,"s":3,"z":133,"y":-12.4},{"p":1,"s":3,"z":134,"y":-12.95},{"p":1,"s":3,"z":135,"y":-12.35},{"p":1,"s":3,"z":136,"y":-12.9},{"p":1,"s":3,"z":137,"y":-12.3},{"p":1,"s":3,"z":138,"y":-12.9},{"p":1,"s":3,"z":139,"y":-12.3},{"p":1,"s":3,"z":140,"y":-12.85},{"p":1,"s":3,"z":141,"y":-18},
{"p":1,"s":4,"z":0,"y":-7.75},{"p":1,"s":4,"z":1,"y":-8.4},{"p":1,"s":4,"z":2,"y":-8.65},{"p":1,"s":4,"z":3,"y":-8.8},{"p":1,"s":4,"z":5,"y":-8.95},{"p":1,"s":4,"z":8,"y":-9.12},{"p":1,"s":4,"z":10,"y":-9.2},{"p":1,"s":4,"z":15,"y":-9.35},{"p":1,"s":4,"z":20,"y":-9.45},{"p":1,"s":4,"z":25,"y":-9.58},{"p":1,"s":4,"z":30,"y":-9.7},{"p":1,"s":4,"z":35,"y":-9.8},{"p":1,"s":4,"z":40,"y":-9.9},{"p":1,"s":4,"z":45,"y":-9.98},{"p":1,"s":4,"z":50,"y":-10.05},{"p":1,"s":4,"z":55,"y":-10.12},{"p":1,"s":4,"z":60,"y":-10.2},{"p":1,"s":4,"z":65,"y":-10.3},{"p":1,"s":4,"z":70,"y":-10.38},{"p":1,"s":4,"z":75,"y":-10.45},{"p":1,"s":4,"z":80,"y":-10.55},{"p":1,"s":4,"z":85,"y":-10.58},{"p":1,"s":4,"z":90,"y":-10.7},{"p":1,"s":4,"z":95,"y":-10.75},{"p":1,"s":4,"z":100,"y":-10.9},{"p":1,"s":4,"z":102.5,"y":-10.75},{"p":1,"s":4,"z":105,"y":-11.0},{"p":1,"s":4,"z":107.5,"y":-10.8},{"p":1,"s":4,"z":110,"y":-11.15},{"p":1,"s":4,"z":112.5,"y":-10.9},{"p":1,"s":4,"z":115,"y":-11.25},{"p":1,"s":4,"z":117.5,"y":-10.95},{"p":1,"s":4,"z":120,"y":-11.3},{"p":1,"s":4,"z":122.5,"y":-11.05},{"p":1,"s":4,"z":125,"y":-11.45},{"p":1,"s":4,"z":127.5,"y":-11.1},{"p":1,"s":4,"z":130,"y":-11.5},{"p":1,"s":4,"z":132.5,"y":-11.2},{"p":1,"s":4,"z":135,"y":-11.55},{"p":1,"s":4,"z":137.5,"y":-11.25},{"p":1,"s":4,"z":140,"y":-11.6},{"p":1,"s":4,"z":142.5,"y":-11.3},{"p":1,"s":4,"z":145,"y":-11.8},{"p":1,"s":4,"z":147.5,"y":-11.4},{"p":1,"s":4,"z":150,"y":-11.7},{"p":1,"s":4,"z":152.5,"y":-11.45},{"p":1,"s":4,"z":155,"y":-12.1},{"p":1,"s":4,"z":157.5,"y":-11.5},{"p":1,"s":4,"z":160,"y":-11.9},{"p":1,"s":4,"z":162.5,"y":-11.6},{"p":1,"s":4,"z":165,"y":-18},{"p":1,"s":4,"z":167.5,"y":-11.7},{"p":1,"s":4,"z":170,"y":-12.0},{"p":1,"s":4,"z":172,"y":-18},{"p":1,"s":4,"z":174,"y":-11.75},{"p":1,"s":4,"z":177.5,"y":-12.05},{"p":1,"s":4,"z":180,"y":-11.8},{"p":1,"s":4,"z":182.5,"y":-12.1},{"p":1,"s":4,"z":185,"y":-18},{"p":1,"s":4,"z":187.5,"y":-11.9},{"p":1,"s":4,"z":190,"y":-12.2},{"p":1,"s":4,"z":192.5,"y":-11.95},{"p":1,"s":4,"z":195,"y":-12.3},{"p":1,"s":4,"z":197.5,"y":-18},{"p":1,"s":4,"z":200,"y":-12.0},{"p":1,"s":4,"z":202.5,"y":-18},{"p":1,"s":4,"z":205,"y":-12.1},{"p":1,"s":4,"z":207.5,"y":-18},{"p":1,"s":4,"z":210,"y":-12.2},{"p":1,"s":4,"z":212.5,"y":-18},{"p":1,"s":4,"z":215,"y":-12.3},{"p":1,"s":4,"z":217.5,"y":-18},{"p":1,"s":4,"z":220,"y":-12.35},{"p":1,"s":4,"z":222.5,"y":-18},{"p":1,"s":4,"z":225,"y":-12.4},{"p":1,"s":4,"z":227.5,"y":-18},{"p":1,"s":4,"z":230,"y":-12.5},{"p":1,"s":4,"z":232.5,"y":-18},{"p":1,"s":4,"z":235,"y":-12.6},{"p":1,"s":4,"z":237.5,"y":-18},{"p":1,"s":4,"z":240,"y":-12.7},{"p":1,"s":4,"z":242.5,"y":-18},{"p":1,"s":4,"z":245,"y":-12.8},{"p":1,"s":4,"z":247.5,"y":-18},{"p":1,"s":4,"z":250,"y":-12.9},{"p":1,"s":4,"z":252.5,"y":-18},{"p":1,"s":4,"z":255,"y":-13.0},{"p":1,"s":4,"z":257.5,"y":-18},{"p":1,"s":4,"z":260,"y":-13.1},{"p":1,"s":4,"z":262.5,"y":-18},{"p":1,"s":4,"z":275,"y":-18},{"p":1,"s":4,"z":277.5,"y":-12.8},{"p":1,"s":4,"z":280,"y":-18},{"p":1,"s":4,"z":282.5,"y":-12.2},{"p":1,"s":4,"z":285,"y":-18},{"p":1,"s":4,"z":287.5,"y":-12.4},{"p":1,"s":4,"z":290,"y":-18},{"p":1,"s":4,"z":292.5,"y":-12.5},{"p":1,"s":4,"z":295,"y":-18},{"p":1,"s":4,"z":297.5,"y":-12.6},{"p":1,"s":4,"z":300,"y":-18},
{"p":1,"s":5,"z":0,"y":-7.7},{"p":1,"s":5,"z":1,"y":-8.35},{"p":1,"s":5,"z":2,"y":-8.62},{"p":1,"s":5,"z":3,"y":-8.78},{"p":1,"s":5,"z":5,"y":-8.93},{"p":1,"s":5,"z":8,"y":-9.1},{"p":1,"s":5,"z":10,"y":-9.18},{"p":1,"s":5,"z":15,"y":-9.33},{"p":1,"s":5,"z":20,"y":-9.43},{"p":1,"s":5,"z":25,"y":-9.55},{"p":1,"s":5,"z":30,"y":-9.67},{"p":1,"s":5,"z":35,"y":-9.76},{"p":1,"s":5,"z":40,"y":-9.87},{"p":1,"s":5,"z":45,"y":-9.95},{"p":1,"s":5,"z":50,"y":-10.03},{"p":1,"s":5,"z":55,"y":-10.1},{"p":1,"s":5,"z":60,"y":-10.18},{"p":1,"s":5,"z":65,"y":-10.28},{"p":1,"s":5,"z":70,"y":-10.35},{"p":1,"s":5,"z":75,"y":-10.42},{"p":1,"s":5,"z":80,"y":-10.5},{"p":1,"s":5,"z":85,"y":-10.55},{"p":1,"s":5,"z":90,"y":-10.62},{"p":1,"s":5,"z":95,"y":-10.7},{"p":1,"s":5,"z":100,"y":-10.8},{"p":1,"s":5,"z":102.5,"y":-10.7},{"p":1,"s":5,"z":105,"y":-10.9},{"p":1,"s":5,"z":107.5,"y":-10.75},{"p":1,"s":5,"z":110,"y":-11.0},{"p":1,"s":5,"z":112.5,"y":-10.85},{"p":1,"s":5,"z":115,"y":-11.1},{"p":1,"s":5,"z":117.5,"y":-10.9},{"p":1,"s":5,"z":120,"y":-11.15},{"p":1,"s":5,"z":122.5,"y":-11.0},{"p":1,"s":5,"z":125,"y":-11.25},{"p":1,"s":5,"z":127.5,"y":-11.05},{"p":1,"s":5,"z":130,"y":-11.35},{"p":1,"s":5,"z":132.5,"y":-11.1},{"p":1,"s":5,"z":135,"y":-11.4},{"p":1,"s":5,"z":137.5,"y":-11.2},{"p":1,"s":5,"z":140,"y":-11.5},{"p":1,"s":5,"z":142.5,"y":-11.3},{"p":1,"s":5,"z":145,"y":-11.55},{"p":1,"s":5,"z":147.5,"y":-11.35},{"p":1,"s":5,"z":150,"y":-11.65},{"p":1,"s":5,"z":152.5,"y":-11.4},{"p":1,"s":5,"z":155,"y":-11.7},{"p":1,"s":5,"z":157.5,"y":-11.45},{"p":1,"s":5,"z":160,"y":-11.8},{"p":1,"s":5,"z":162.5,"y":-11.55},{"p":1,"s":5,"z":165,"y":-11.85},{"p":1,"s":5,"z":167.5,"y":-11.6},{"p":1,"s":5,"z":170,"y":-11.95},{"p":1,"s":5,"z":172.5,"y":-11.7},{"p":1,"s":5,"z":175,"y":-12.0},{"p":1,"s":5,"z":177.5,"y":-11.75},{"p":1,"s":5,"z":180,"y":-12.1},{"p":1,"s":5,"z":182.5,"y":-11.85},{"p":1,"s":5,"z":185,"y":-12.15},{"p":1,"s":5,"z":187.5,"y":-11.9},{"p":1,"s":5,"z":190,"y":-12.25},{"p":1,"s":5,"z":192.5,"y":-12.0},{"p":1,"s":5,"z":195,"y":-12.3},{"p":1,"s":5,"z":197.5,"y":-18},{"p":1,"s":5,"z":200,"y":-12.1},{"p":1,"s":5,"z":202.5,"y":-12.45},{"p":1,"s":5,"z":205,"y":-18},{"p":1,"s":5,"z":207.5,"y":-12.2},{"p":1,"s":5,"z":210,"y":-12.55},{"p":1,"s":5,"z":212.5,"y":-18},{"p":1,"s":5,"z":215,"y":-12.3},{"p":1,"s":5,"z":217.5,"y":-12.7},{"p":1,"s":5,"z":220,"y":-18},{"p":1,"s":5,"z":222.5,"y":-12.4},{"p":1,"s":5,"z":225,"y":-12.8},{"p":1,"s":5,"z":227.5,"y":-18},{"p":1,"s":5,"z":230,"y":-12.5},{"p":1,"s":5,"z":232.5,"y":-12.9},{"p":1,"s":5,"z":235,"y":-18},{"p":1,"s":5,"z":237.5,"y":-12.6},{"p":1,"s":5,"z":240,"y":-13.0},{"p":1,"s":5,"z":242.5,"y":-18},{"p":1,"s":5,"z":245,"y":-12.8},{"p":1,"s":5,"z":247.5,"y":-13.2},{"p":1,"s":5,"z":250,"y":-18},{"p":1,"s":5,"z":252.5,"y":-13.0},{"p":1,"s":5,"z":255,"y":-13.4},{"p":1,"s":5,"z":257.5,"y":-18},{"p":1,"s":5,"z":260,"y":-13.2},{"p":1,"s":5,"z":262.5,"y":-18},{"p":1,"s":5,"z":300,"y":-18},
{"p":1,"s":6,"z":0,"y":-8.25},{"p":1,"s":6,"z":1,"y":-8.6},{"p":1,"s":6,"z":2,"y":-8.78},{"p":1,"s":6,"z":3,"y":-8.9},{"p":1,"s":6,"z":5,"y":-9.02},{"p":1,"s":6,"z":8,"y":-9.15},{"p":1,"s":6,"z":10,"y":-9.22},{"p":1,"s":6,"z":15,"y":-9.37},{"p":1,"s":6,"z":20,"y":-9.48},{"p":1,"s":6,"z":25,"y":-9.6},{"p":1,"s":6,"z":30,"y":-9.72},{"p":1,"s":6,"z":35,"y":-9.82},{"p":1,"s":6,"z":40,"y":-9.92},{"p":1,"s":6,"z":45,"y":-10.0},{"p":1,"s":6,"z":50,"y":-10.08},{"p":1,"s":6,"z":55,"y":-10.15},{"p":1,"s":6,"z":60,"y":-10.25},{"p":1,"s":6,"z":65,"y":-10.32},{"p":1,"s":6,"z":70,"y":-10.4},{"p":1,"s":6,"z":75,"y":-10.48},{"p":1,"s":6,"z":80,"y":-10.55},{"p":1,"s":6,"z":85,"y":-10.62},{"p":1,"s":6,"z":90,"y":-10.7},{"p":1,"s":6,"z":95,"y":-10.75},{"p":1,"s":6,"z":100,"y":-10.85},{"p":1,"s":6,"z":102.5,"y":-10.75},{"p":1,"s":6,"z":105,"y":-10.98},{"p":1,"s":6,"z":107.5,"y":-10.82},{"p":1,"s":6,"z":110,"y":-11.1},{"p":1,"s":6,"z":112.5,"y":-10.9},{"p":1,"s":6,"z":115,"y":-11.2},{"p":1,"s":6,"z":117.5,"y":-10.98},{"p":1,"s":6,"z":120,"y":-11.28},{"p":1,"s":6,"z":122.5,"y":-11.05},{"p":1,"s":6,"z":125,"y":-11.35},{"p":1,"s":6,"z":127.5,"y":-11.12},{"p":1,"s":6,"z":130,"y":-11.45},{"p":1,"s":6,"z":132.5,"y":-11.2},{"p":1,"s":6,"z":135,"y":-11.5},{"p":1,"s":6,"z":137.5,"y":-11.3},{"p":1,"s":6,"z":140,"y":-11.6},{"p":1,"s":6,"z":142.5,"y":-11.35},{"p":1,"s":6,"z":145,"y":-11.7},{"p":1,"s":6,"z":147.5,"y":-11.45},{"p":1,"s":6,"z":150,"y":-11.8},{"p":1,"s":6,"z":152.5,"y":-11.5},{"p":1,"s":6,"z":155,"y":-11.85},{"p":1,"s":6,"z":157.5,"y":-11.6},{"p":1,"s":6,"z":160,"y":-11.95},{"p":1,"s":6,"z":162.5,"y":-11.7},{"p":1,"s":6,"z":165,"y":-12.0},{"p":1,"s":6,"z":167.5,"y":-11.75},{"p":1,"s":6,"z":170,"y":-12.1},{"p":1,"s":6,"z":172.5,"y":-11.85},{"p":1,"s":6,"z":175,"y":-12.15},{"p":1,"s":6,"z":177.5,"y":-11.9},{"p":1,"s":6,"z":180,"y":-12.25},{"p":1,"s":6,"z":182.5,"y":-12.0},{"p":1,"s":6,"z":185,"y":-12.3},{"p":1,"s":6,"z":187.5,"y":-12.05},{"p":1,"s":6,"z":190,"y":-12.4},{"p":1,"s":6,"z":192.5,"y":-12.1},{"p":1,"s":6,"z":195,"y":-12.45},{"p":1,"s":6,"z":197.5,"y":-12.2},{"p":1,"s":6,"z":200,"y":-12.55},{"p":1,"s":6,"z":202.5,"y":-12.25},{"p":1,"s":6,"z":205,"y":-12.6},{"p":1,"s":6,"z":207.5,"y":-12.35},{"p":1,"s":6,"z":210,"y":-12.7},{"p":1,"s":6,"z":212.5,"y":-12.4},{"p":1,"s":6,"z":215,"y":-12.75},{"p":1,"s":6,"z":217.5,"y":-12.5},{"p":1,"s":6,"z":220,"y":-12.85},{"p":1,"s":6,"z":222.5,"y":-12.55},{"p":1,"s":6,"z":225,"y":-12.9},{"p":1,"s":6,"z":227.5,"y":-12.65},{"p":1,"s":6,"z":230,"y":-13.0},{"p":1,"s":6,"z":232.5,"y":-12.7},{"p":1,"s":6,"z":235,"y":-13.1},{"p":1,"s":6,"z":237.5,"y":-12.8},{"p":1,"s":6,"z":240,"y":-13.2},{"p":1,"s":6,"z":242.5,"y":-12.9},{"p":1,"s":6,"z":245,"y":-13.3},{"p":1,"s":6,"z":247.5,"y":-13.0},{"p":1,"s":6,"z":250,"y":-13.4},{"p":1,"s":6,"z":252.5,"y":-13.1},{"p":1,"s":6,"z":255,"y":-13.5},{"p":1,"s":6,"z":257.5,"y":-13.15},{"p":1,"s":6,"z":260,"y":-13.8},{"p":1,"s":6,"z":262.5,"y":-14.3},{"p":1,"s":6,"z":265,"y":-14.9},{"p":1,"s":6,"z":268,"y":-14.85},{"p":1,"s":6,"z":270,"y":-14.9},{"p":1,"s":6,"z":272.5,"y":-13.8},{"p":1,"s":6,"z":275,"y":-14.3},{"p":1,"s":6,"z":277.5,"y":-13.6},{"p":1,"s":6,"z":280,"y":-14.2},{"p":1,"s":6,"z":282.5,"y":-13.5},{"p":1,"s":6,"z":285,"y":-14.4},{"p":1,"s":6,"z":287.5,"y":-13.7},{"p":1,"s":6,"z":290,"y":-14.6},{"p":1,"s":6,"z":292.5,"y":-13.9},{"p":1,"s":6,"z":295,"y":-14.8},{"p":1,"s":6,"z":297.5,"y":-14.1},{"p":1,"s":6,"z":300,"y":-15.0},
{"p":1,"s":7,"z":0,"y":-6.7},{"p":1,"s":7,"z":1,"y":-6.93},{"p":1,"s":7,"z":2,"y":-7.05},{"p":1,"s":7,"z":4,"y":-7.2},{"p":1,"s":7,"z":7,"y":-7.35},{"p":1,"s":7,"z":10,"y":-7.46},{"p":1,"s":7,"z":15,"y":-7.62},{"p":1,"s":7,"z":20,"y":-7.76},{"p":1,"s":7,"z":25,"y":-7.88},{"p":1,"s":7,"z":30,"y":-8.0},{"p":1,"s":7,"z":35,"y":-8.12},{"p":1,"s":7,"z":40,"y":-8.23},{"p":1,"s":7,"z":45,"y":-8.34},{"p":1,"s":7,"z":50,"y":-8.45},{"p":1,"s":7,"z":55,"y":-8.55},{"p":1,"s":7,"z":60,"y":-8.64},{"p":1,"s":7,"z":65,"y":-8.73},{"p":1,"s":7,"z":70,"y":-8.82},{"p":1,"s":7,"z":75,"y":-8.9},{"p":1,"s":7,"z":80,"y":-9.0},{"p":1,"s":7,"z":85,"y":-9.08},{"p":1,"s":7,"z":90,"y":-9.17},{"p":1,"s":7,"z":95,"y":-9.26},{"p":1,"s":7,"z":100,"y":-9.35},{"p":1,"s":7,"z":105,"y":-9.45},{"p":1,"s":7,"z":110,"y":-9.53},{"p":1,"s":7,"z":115,"y":-9.62},{"p":1,"s":7,"z":120,"y":-9.7},{"p":1,"s":7,"z":125,"y":-9.78},{"p":1,"s":7,"z":130,"y":-9.88},{"p":1,"s":7,"z":135,"y":-9.95},{"p":1,"s":7,"z":140,"y":-10.05},{"p":1,"s":7,"z":145,"y":-10.08},{"p":1,"s":7,"z":150,"y":-10.2},{"p":1,"s":7,"z":155,"y":-10.25},{"p":1,"s":7,"z":160,"y":-10.35},{"p":1,"s":7,"z":165,"y":-10.42},{"p":1,"s":7,"z":170,"y":-10.45},{"p":1,"s":7,"z":175,"y":-10.55},{"p":1,"s":7,"z":180,"y":-10.6},{"p":1,"s":7,"z":185,"y":-10.72},{"p":1,"s":7,"z":190,"y":-10.8},{"p":1,"s":7,"z":195,"y":-10.85},{"p":1,"s":7,"z":200,"y":-10.92},{"p":1,"s":7,"z":205,"y":-11.0},{"p":1,"s":7,"z":210,"y":-10.95},{"p":1,"s":7,"z":215,"y":-11.15},{"p":1,"s":7,"z":220,"y":-11.1},{"p":1,"s":7,"z":225,"y":-11.3},{"p":1,"s":7,"z":230,"y":-11.25},{"p":1,"s":7,"z":235,"y":-11.45},{"p":1,"s":7,"z":240,"y":-11.35},{"p":1,"s":7,"z":245,"y":-11.55},{"p":1,"s":7,"z":250,"y":-11.5},{"p":1,"s":7,"z":255,"y":-11.65},{"p":1,"s":7,"z":260,"y":-11.75},{"p":1,"s":7,"z":265,"y":-11.85},{"p":1,"s":7,"z":270,"y":-11.9},{"p":1,"s":7,"z":275,"y":-11.95},{"p":1,"s":7,"z":278,"y":-12.1},{"p":1,"s":7,"z":281,"y":-11.7},{"p":1,"s":7,"z":283,"y":-11.35},{"p":1,"s":7,"z":285,"y":-11.9},{"p":1,"s":7,"z":287,"y":-12.05},{"p":1,"s":7,"z":289,"y":-11.75},{"p":1,"s":7,"z":291,"y":-12.2},{"p":1,"s":7,"z":293,"y":-12.75},{"p":1,"s":7,"z":295,"y":-12.4},{"p":1,"s":7,"z":297,"y":-11.8},{"p":1,"s":7,"z":298,"y":-11.4},{"p":1,"s":7,"z":299,"y":-12.0},{"p":1,"s":7,"z":300,"y":-12.3}
]},
"hconcat":[
{"width":375,"height":423,"data":{"name":"dose"},
 "transform":[{"filter":"datum.p == 0"},{"lookup":"s","from":{"data":{"name":"names"},"key":"s","fields":["particle"]}}],
 "mark":{"type":"line","clip":true,"strokeWidth":1.6},
 "encoding":{
  "x":{"field":"z","type":"quantitative","scale":{"domain":[0,300],"nice":false,"zero":false},"axis":{"values":[0,50,100,150,200,250,300],"title":"z [cm]","titlePadding":1}},
  "y":{"field":"y","type":"quantitative","scale":{"domain":[-16,-6],"nice":false,"zero":false},"axis":{"values":[-16,-15,-14,-13,-12,-11,-10,-9,-8,-7,-6],"title":"Dose [μGy/annihilation]","titlePadding":5,"labelExpr":"'10⁻' + (-datum.value >= 10 ? '¹' : '') + substring('⁰¹²³⁴⁵⁶⁷⁸⁹', (-datum.value) % 10, (-datum.value) % 10 + 1)"}},
  "color":{"field":"particle","type":"nominal","scale":{"domain":["Electrons/Positrons","Proton","Charged Pions","Deuterium","Alpha","Other Particles","Total"],"range":["#1f77b4","#ff7f0e","#2ca02c","#d62728","#9467bd","#8c564b","#000000"]},"legend":{"orient":"top-right"}},
  "strokeDash":{"field":"particle","type":"nominal","scale":{"domain":["Electrons/Positrons","Proton","Charged Pions","Deuterium","Alpha","Other Particles","Total"],"range":[[6.5,2.8],[6.5,2.8],[6.5,2.8],[6.5,2.8],[6.5,2.8],[6.5,2.8],[1,0]]},"legend":{"orient":"top-right"}}
 }},
{"width":375,"height":423,"data":{"name":"dose"},
 "transform":[{"filter":"datum.p == 1"},{"lookup":"s","from":{"data":{"name":"names"},"key":"s","fields":["particle"]}}],
 "mark":{"type":"line","clip":true,"strokeWidth":1.6},
 "encoding":{
  "x":{"field":"z","type":"quantitative","scale":{"domain":[0,300],"nice":false,"zero":false},"axis":{"values":[0,50,100,150,200,250,300],"title":"z [cm]","titlePadding":1}},
  "y":{"field":"y","type":"quantitative","scale":{"domain":[-16,-6],"nice":false,"zero":false},"axis":{"values":[-16,-15,-14,-13,-12,-11,-10,-9,-8,-7,-6],"title":"Dose [μGy/annihilation]","titlePadding":5,"labelExpr":"'10⁻' + (-datum.value >= 10 ? '¹' : '') + substring('⁰¹²³⁴⁵⁶⁷⁸⁹', (-datum.value) % 10, (-datum.value) % 10 + 1)"}},
  "color":{"field":"particle","type":"nominal","scale":{"domain":["Electrons/Positrons","Proton","Charged Pions","Deuterium","Alpha","Other Particles","Total"],"range":["#1f77b4","#ff7f0e","#2ca02c","#d62728","#9467bd","#8c564b","#000000"]},"legend":{"orient":"top-right"}},
  "strokeDash":{"field":"particle","type":"nominal","scale":{"domain":["Electrons/Positrons","Proton","Charged Pions","Deuterium","Alpha","Other Particles","Total"],"range":[[6.5,2.8],[6.5,2.8],[6.5,2.8],[6.5,2.8],[6.5,2.8],[6.5,2.8],[1,0]]},"legend":{"orient":"top-right"}}
 }}
],
"resolve":{"scale":{"color":"independent","strokeDash":"independent"},"legend":{"color":"independent","strokeDash":"independent"}}
}
